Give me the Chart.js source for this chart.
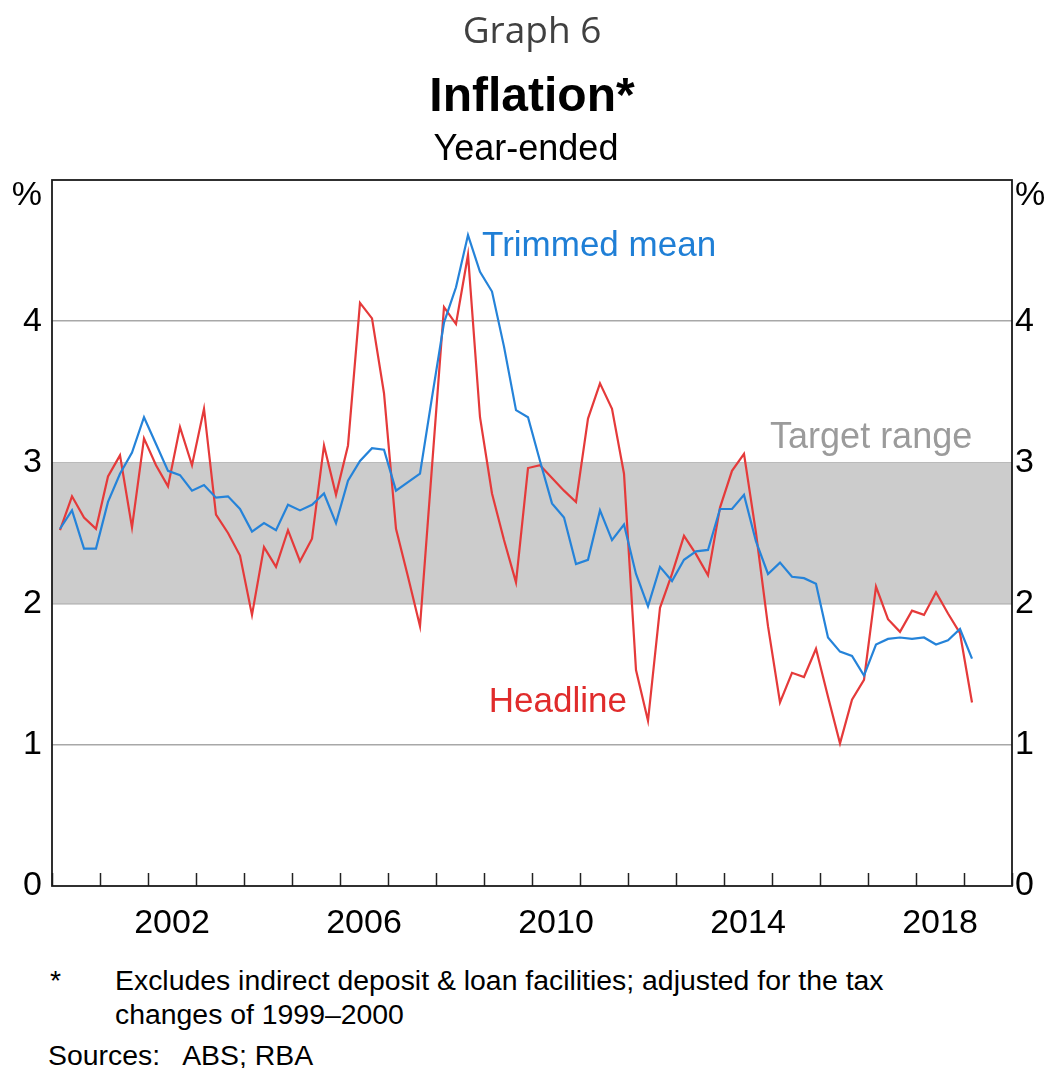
<!DOCTYPE html>
<html lang="en">
<head>
    <meta charset="UTF-8">
    <title>Graph 6 - Inflation</title>
    <script src="https://cdn.jsdelivr.net/npm/chart.js"></script>
    <style>
        body {
            margin: 0;
            width: 1049px;
            height: 1068px;
            position: relative;
            overflow: hidden;
            background: #fff;
            font-family: Arial, "Liberation Sans", sans-serif;
        }
        .head {
            position: absolute;
            left: 0;
            width: 1064px;  /* centred on the plot area */
            text-align: center;
            white-space: nowrap;
            line-height: 1;
        }
        #graphNo { top: 10px; font-family: "Open Sans", sans-serif; font-size: 37px; color: #404040; }
        #title { top: 71px; font-size: 48px; font-weight: bold; color: #000; }
        #subtitle { top: 130px; left: -6px; font-size: 36px; color: #000; }
        #chartBox { position: absolute; left: 0; top: 0; }
        .note {
            position: absolute;
            font-size: 28.4px;
            line-height: 34px;
            color: #000;
            white-space: nowrap;
        }
    </style>
</head>
<body>
    <canvas id="chartBox" width="1049" height="950"></canvas>
    <div class="head" id="graphNo">Graph 6</div>
    <div class="head" id="title">Inflation*</div>
    <div class="head" id="subtitle">Year-ended</div>

    <div class="note" style="left:50px; top:963px;">*</div>
    <div class="note" style="left:115px; top:963px;">Excludes indirect deposit &amp; loan facilities; adjusted for the tax<br>changes of 1999–2000</div>
    <div class="note" style="left:48px; top:1038px;">Sources:&nbsp;&nbsp; ABS; RBA</div>

    <script>
        // quarterly, Mar 2000 to Mar 2019 (year-ended %)
        const firstQuarter = 2000 + 2 / 12;
        const headline = [
            2.52, 2.76, 2.61, 2.53, 2.90, 3.05, 2.54, 3.17, 2.98, 2.83, 3.25, 2.98,
            3.38, 2.63, 2.50, 2.34, 1.92, 2.40, 2.26, 2.52, 2.30, 2.46, 3.12, 2.77,
            3.12, 4.13, 4.02, 3.49, 2.53, 2.19, 1.84, 2.97, 4.10, 3.98, 4.47, 3.32,
            2.78, 2.45, 2.15, 2.96, 2.98, 2.89, 2.80, 2.72, 3.31, 3.56, 3.38, 2.92,
            1.53, 1.17, 1.97, 2.21, 2.48, 2.35, 2.20, 2.68, 2.94, 3.06, 2.50, 1.84,
            1.30, 1.51, 1.48, 1.68, 1.34, 1.01, 1.32, 1.46, 2.12, 1.89, 1.80, 1.95,
            1.92, 2.08, 1.93, 1.79, 1.30
        ];
        const trimmedMean = [
            2.53, 2.66, 2.39, 2.39, 2.72, 2.92, 3.07, 3.32, 3.13, 2.94, 2.91, 2.80,
            2.84, 2.75, 2.76, 2.67, 2.51, 2.57, 2.52, 2.70, 2.66, 2.70, 2.78, 2.57,
            2.87, 3.01, 3.10, 3.09, 2.80, 2.86, 2.92, 3.46, 3.99, 4.24, 4.61, 4.35,
            4.21, 3.82, 3.37, 3.32, 3.01, 2.71, 2.61, 2.28, 2.31, 2.66, 2.45, 2.56,
            2.21, 1.98, 2.26, 2.16, 2.31, 2.37, 2.38, 2.67, 2.67, 2.77, 2.44, 2.21,
            2.29, 2.19, 2.18, 2.14, 1.76, 1.66, 1.63, 1.49, 1.71, 1.75, 1.76, 1.75,
            1.76, 1.71, 1.74, 1.82, 1.61
        ];
        const targetLow = 2;
        const targetHigh = 3;
        const yearLabels = [2002, 2006, 2010, 2014, 2018];
        const yTicks = [0, 1, 2, 3, 4];

        const fontFamily = 'Arial, "Liberation Sans", sans-serif';
        const blue = '#2583d9';
        const red = '#e53a3a';

        function toPoints(values) {
            return values.map((v, i) => ({ x: firstQuarter + i * 0.25, y: v }));
        }

        // y ticks plus the "%" unit label near the top
        function buildYTicks(scale) {
            scale.ticks = yTicks.map(v => ({ value: v })).concat([{ value: 4.89 }]);
        }

        // frame around the plot area
        const framePlugin = {
            id: 'frame',
            afterDatasetsDraw(chart) {
                const { ctx, chartArea: a } = chart;
                ctx.save();
                ctx.strokeStyle = '#1a1a1a';
                ctx.lineWidth = 1.8;
                ctx.strokeRect(a.left, a.top, a.right - a.left, a.bottom - a.top);
                ctx.restore();
            }
        };

        // text labels inside the plot
        const labelPlugin = {
            id: 'seriesLabels',
            afterDatasetsDraw(chart) {
                const { ctx, scales } = chart;
                const labels = [
                    { text: 'Trimmed mean', x: 2008.96, y: 4.46, color: '#1f7fd6', size: 35 },
                    { text: 'Target range', x: 2014.96, y: 3.10, color: '#9b9b9b', size: 36 },
                    { text: 'Headline', x: 2009.10, y: 1.23, color: '#e02b2b', size: 35 }
                ];
                ctx.save();
                ctx.textAlign = 'left';
                ctx.textBaseline = 'alphabetic';
                labels.forEach(l => {
                    ctx.font = l.size + 'px ' + fontFamily;
                    ctx.fillStyle = l.color;
                    ctx.fillText(l.text, scales.x.getPixelForValue(l.x), scales.y.getPixelForValue(l.y));
                });
                ctx.restore();
            }
        };

        const ctx = document.getElementById('chartBox').getContext('2d');
        new Chart(ctx, {
            type: 'line',
            data: {
                datasets: [
                    {
                        label: 'Trimmed mean',
                        data: toPoints(trimmedMean),
                        borderColor: blue,
                        borderWidth: 2.2,
                        pointRadius: 0,
                        fill: false
                    },
                    {
                        label: 'Headline',
                        data: toPoints(headline),
                        borderColor: red,
                        borderWidth: 2.2,
                        pointRadius: 0,
                        fill: false
                    },
                    {
                        label: 'Target top',
                        data: [{ x: 2000, y: targetHigh }, { x: 2020, y: targetHigh }],
                        borderColor: 'rgba(0,0,0,0)',
                        borderWidth: 0,
                        pointRadius: 0,
                        backgroundColor: '#cccccc',
                        fill: '+1'
                    },
                    {
                        label: 'Target bottom',
                        data: [{ x: 2000, y: targetLow }, { x: 2020, y: targetLow }],
                        borderColor: 'rgba(0,0,0,0)',
                        borderWidth: 0,
                        pointRadius: 0,
                        fill: false
                    }
                ]
            },
            options: {
                responsive: false,
                animation: false,
                layout: { padding: { top: 180, left: 0, right: 0, bottom: 0 } },
                plugins: {
                    legend: { display: false },
                    tooltip: { enabled: false }
                },
                scales: {
                    x: {
                        type: 'linear',
                        min: 2000,
                        max: 2020,
                        afterBuildTicks: scale => {
                            const t = [];
                            for (let v = 2000; v <= 2020; v += 0.5) t.push({ value: v });
                            scale.ticks = t;
                        },
                        ticks: {
                            autoSkip: false,
                            maxRotation: 0,
                            padding: 30,
                            color: '#000',
                            font: { size: 34, family: fontFamily },
                            callback: v => (yearLabels.includes(v - 0.5) ? String(v - 0.5) : '')
                        },
                        grid: {
                            drawOnChartArea: false,
                            drawTicks: true,
                            tickLength: -13,
                            tickWidth: 1.5,
                            tickColor: c => (Number.isInteger(c.tick.value) ? '#222' : 'rgba(0,0,0,0)')
                        },
                        border: { display: false },
                        afterFit: scale => { scale.height = 64; }
                    },
                    y: {
                        position: 'left',
                        min: 0,
                        max: 5,
                        afterBuildTicks: buildYTicks,
                        ticks: {
                            padding: 10,
                            color: '#000',
                            font: { size: 34, family: fontFamily },
                            callback: v => (v > 4.5 ? '%' : v)
                        },
                        grid: {
                            drawTicks: false,
                            lineWidth: 1.5,
                            color: c => (c.tick && c.tick.value > 0 && c.tick.value < 4.5 ? '#a8a8a8' : 'rgba(0,0,0,0)')
                        },
                        border: { display: false },
                        afterFit: scale => { scale.width = 52; }
                    },
                    y2: {
                        position: 'right',
                        min: 0,
                        max: 5,
                        afterBuildTicks: buildYTicks,
                        ticks: {
                            padding: 3,
                            color: '#000',
                            font: { size: 34, family: fontFamily },
                            callback: v => (v > 4.5 ? '%' : v)
                        },
                        grid: { display: false, drawTicks: false },
                        border: { display: false },
                        afterFit: scale => { scale.width = 37; }
                    }
                }
            },
            plugins: [framePlugin, labelPlugin]
        });
    </script>
</body>
</html>
